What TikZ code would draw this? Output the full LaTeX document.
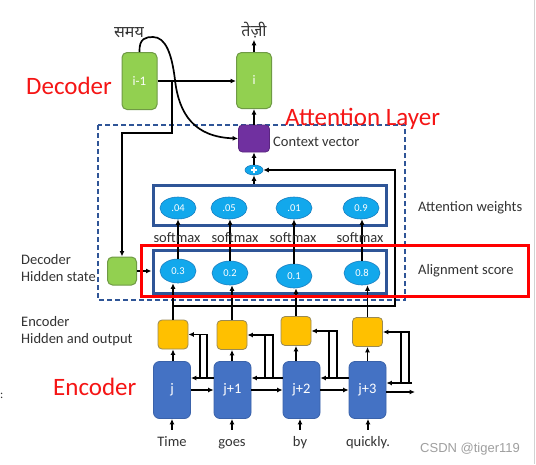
\documentclass[tikz,border=0pt]{standalone}
\usepackage{fontspec}
\setmainfont{Carlito}
\newfontfamily\deva[Script=Devanagari]{Noto Sans}
\newfontfamily\wmfont{Liberation Sans}
\usetikzlibrary{arrows.meta,shapes.geometric}
\definecolor{greenfill}{HTML}{92D050}
\definecolor{greenline}{HTML}{6F9A45}
\definecolor{purplefill}{HTML}{7030A0}
\definecolor{cyanfill}{HTML}{12A8EC}
\definecolor{cyanline}{HTML}{1B7FC0}
\definecolor{navy}{HTML}{2F5597}
\definecolor{encblue}{HTML}{4472C4}
\definecolor{encline}{HTML}{3A62AA}
\definecolor{yellowfill}{HTML}{FFC000}
\definecolor{yellowline}{HTML}{9A8A55}
\definecolor{titlered}{HTML}{F51515}
\definecolor{txtgrey}{HTML}{333333}
\newcommand\fsz[1]{\fontsize{#1}{#1}\selectfont}
\begin{document}
\begin{tikzpicture}[x=1pt,y=-1pt,
  conn/.style={line width=1.7pt, black},
  arr/.style={conn, -{Latex[length=5.5pt,width=5pt]}},
  gbox/.style={draw=greenline, fill=greenfill, rounded corners=5pt, line width=1pt, text=white, font=\fsz{13}, inner sep=0pt},
  pbox/.style={draw=purplefill!80!black, fill=purplefill, rounded corners=4pt, line width=0.8pt, minimum width=31pt, minimum height=27pt, inner sep=0pt},
  ell/.style={ellipse, draw=cyanline, fill=cyanfill, line width=0.6pt, text=white, font=\fsz{10.5}, minimum width=36pt, inner sep=0pt},
  frame/.style={draw=navy, line width=3pt, inner sep=0pt},
  ebox/.style={draw=encline, fill=encblue, rounded corners=6pt, line width=0.8pt, text=white, font=\fsz{14.5}, minimum width=37pt, minimum height=57pt, inner sep=0pt},
  ybox/.style={draw=yellowline, fill=yellowfill, rounded corners=4pt, line width=0.8pt, minimum width=30pt, minimum height=29pt, inner sep=0pt},
  bigred/.style={text=titlered, font=\fsz{25}, inner sep=0pt},
  lbl/.style={text=txtgrey, font=\fsz{14.5}, inner sep=0pt},
  word/.style={text=txtgrey, font=\fsz{14.5}, anchor=base, text height=10pt, text depth=3pt, inner xsep=0pt, inner ysep=6pt},
  hindi/.style={text=txtgrey, font=\deva\fsz{16}, anchor=base, inner sep=2pt}
]
\useasboundingbox (0,0) rectangle (536,464);
\fill[white] (0,0) rectangle (536,464);
\draw[gray!35, line width=0.8pt] (534,0) -- (534,464);

% attention layer dashed frame
\draw[navy, line width=1.4pt, dash pattern=on 5pt off 3pt] (98,125) rectangle (405,300);

% titles
\node[bigred, anchor=base west] (tdec) at (26,94) {Decoder};
\node[bigred, anchor=base west] (tatt) at (285,125) {Attention Layer};
\node[bigred, anchor=base west] (tenc) at (53,395) {Encoder};

% decoder
\node[gbox, minimum width=35pt, minimum height=57pt] (dprev) at (139.5,81) {i-1};
\node[gbox, minimum width=35pt, minimum height=56pt] (dcur) at (254,80.5) {i};
\node[hindi] (samay) at (129,37) {समय};
\node[hindi] (tezi) at (254,36) {तेज़ी};
\node[pbox] (cv) at (254,138.5) {};
\node[lbl, anchor=base west] (tcv) at (273,146) {Context vector};
\node[ellipse, draw=cyanline, fill=cyanfill, line width=0.6pt, minimum width=18pt, minimum height=10pt, inner sep=0pt] (plus) at (254,170) {};
\draw[white, line width=1.2pt] ([xshift=-3pt]plus.center) -- ([xshift=3pt]plus.center) ([yshift=-3pt]plus.center) -- ([yshift=3pt]plus.center);

\draw[arr] (dprev.east) -- (dprev.east -| dcur.west);
\draw[arr] (dcur.north) -- (dcur.north |- tezi.south);
\draw[arr] (cv.north) -- (dcur.south);
\draw[arr] (plus.north) -- (cv.south);
\draw[arr] (dprev.north) .. controls (139,38) and (146,37) .. (153,37)
  .. controls (166,37) and (172,55) .. (175,80)
  .. controls (179,115) and (195,137) .. (cv.west);

% decoder hidden state
\node[gbox, minimum width=29pt, minimum height=28pt] (dh) at (122,271) {};
\coordinate (br) at (172,81);
\draw[arr] (br) -- (br |- 0,133) -| (dh.north);
\node[lbl, anchor=base west] (tdh1) at (21,264) {Decoder};
\node[lbl, anchor=base west] (tdh2) at (21,281) {Hidden state};

% attention weights and alignment
\node[frame, minimum width=233pt, minimum height=40pt] (aw) at (269.5,205) {};
\node[frame, minimum width=233pt, minimum height=43pt] (al) at (269.5,271.5) {};
\node[ell, minimum height=22pt] (w1) at (178,208) {.04};
\node[ell, minimum height=22pt] (w2) at (229,208) {.05};
\node[ell, minimum height=22pt] (w3) at (294,208) {.01};
\node[ell, minimum height=22pt] (w4) at (361,208) {0.9};
\node[ell, minimum height=24pt] (a1) at (178,271) {0.3};
\node[ell, minimum height=24pt] (a2) at (230,273) {0.2};
\node[ell, minimum height=24pt] (a3) at (294,276) {0.1};
\node[ell, minimum height=24pt] (a4) at (362,273) {0.8};
\foreach \i in {1,2,3,4} {\draw[arr] (a\i.north) -- (a\i.north |- w\i.south);}
\node[lbl, anchor=base] (s1) at (177,242) {softmax};
\node[lbl, anchor=base] (s2) at (235,242) {softmax};
\node[lbl, anchor=base] (s3) at (293,242) {softmax};
\node[lbl, anchor=base] (s4) at (360,242) {softmax};
\draw[arr] (aw.north -| plus) -- (plus.south);
\draw[arr] (dh.east) -- (dh.east -| al.west);
\node[lbl, anchor=base west] (taw) at (418,211) {Attention weights};
\node[lbl, anchor=base west] (tal) at (418,274) {Alignment score};

% encoder
\node[ebox] (b1) at (172,390) {j};
\node[ebox] (b2) at (232.5,390) {j+1};
\node[ebox] (b3) at (301.5,390) {j+2};
\node[ebox] (b4) at (367.5,390) {j+3};
\node[ybox] (y1) at (173,334.5) {};
\node[ybox] (y2) at (232,335) {};
\node[ybox] (y3) at (296,331) {};
\node[ybox] (y4) at (367.5,332) {};
\foreach \i in {1,2,3,4} {\draw[arr] (b\i.north -| y\i) -- (y\i.south);}
\node[word] (t1) at (172,446) {Time};
\node[word] (t2) at (232,446) {goes};
\node[word] (t3) at (300,446) {by};
\node[word] (t4) at (368,446) {quickly.};
\foreach \i in {1,2,3,4} {\draw[arr] (t\i.north) -- (t\i.north |- b\i.south);}
\node[lbl, anchor=base west] (teh1) at (21,326) {Encoder};
\node[lbl, anchor=base west] (teh2) at (21,343) {Hidden and output};
\node[text=txtgrey, font=\fsz{12}, inner sep=0pt, anchor=west] (colon) at (0,396) {:};

% forward and backward links
\draw[arr] (b1.east) -- (b2.west);
\draw[arr] (b2.east) -- (b3.west);
\draw[arr] (b3.east) -- (b4.west);
\coordinate (fend) at (415,392);
\draw[arr] (b4.east |- fend) -- (fend);
\draw[arr] ([yshift=12pt]b2.west) -- ([yshift=12pt]b1.east);
\draw[arr] ([yshift=12pt]b3.west) -- ([yshift=12pt]b2.east);
\draw[arr] ([yshift=12pt]b4.west) -- ([yshift=12pt]b3.east);
\coordinate (bstart) at (412,383);
\draw[arr] (bstart) -- (bstart -| b4.east);

% feeds into yellow boxes
\coordinate (v1a) at (200,378); \coordinate (v1b) at (207,378);
\coordinate (v2a) at (265,378); \coordinate (v2b) at (273,378);
\coordinate (v3a) at (329,378); \coordinate (v3b) at (337,378);
\coordinate (v4a) at (401,383); \coordinate (v4b) at (409,383);
\foreach \i in {1,2,3,4} {
  \draw[conn] (v\i a) -- (v\i a |- y\i);
  \draw[arr] (v\i b) -- (v\i b |- y\i) -- (y\i.east);
}

% encoder outputs to attention
\foreach \i in {1,2,3,4} {\draw[arr] (y\i.north) -- (y\i.north |- a\i.south);}
\coordinate (k1) at (173,306);
\coordinate (k2) at (395,306);
\coordinate (k3) at (395,170);
\draw[arr] (k1) -- (k2) -- (k3) -- (plus.east);

% highlight
\draw[red, line width=3pt] (141,245) rectangle (528,296);

% watermark
\node[anchor=base west, font=\wmfont\fsz{13}, text=gray!75, inner sep=0pt] (wm) at (420,452) {CSDN @tiger119};
\end{tikzpicture}
\end{document}
